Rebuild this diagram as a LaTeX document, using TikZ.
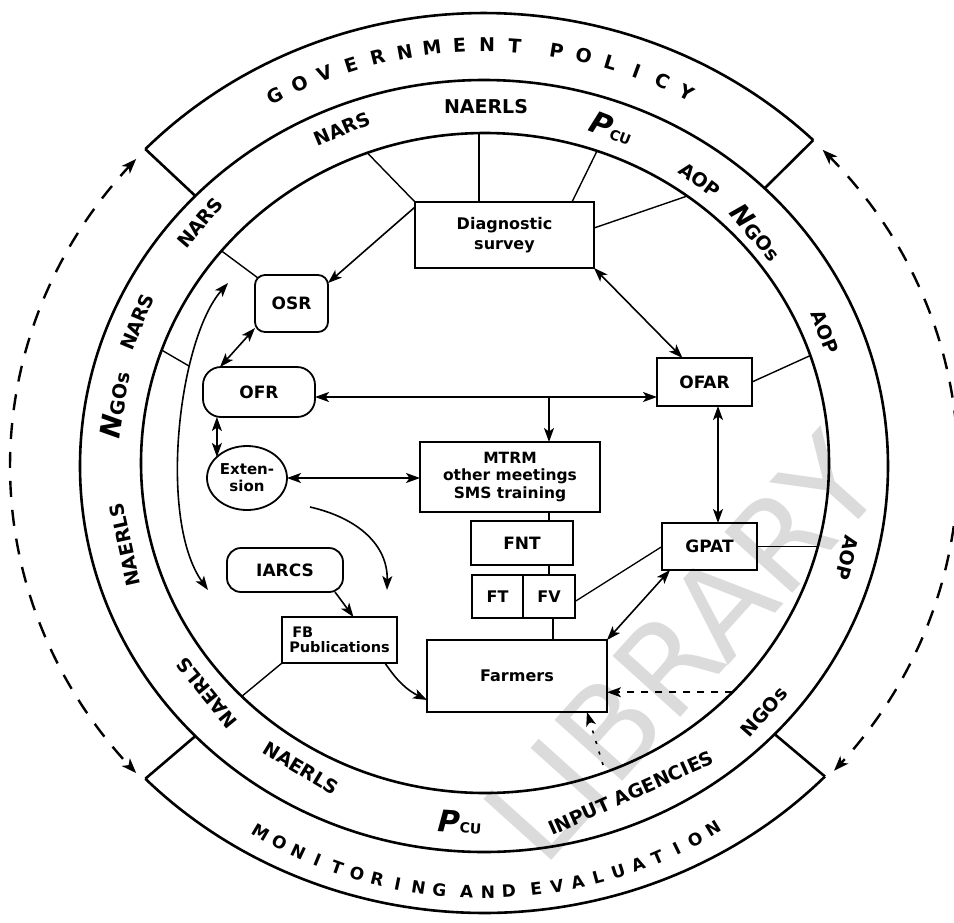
\documentclass[tikz,border=0pt]{standalone}
\usepackage{fontspec}
\setmainfont{DejaVu Sans}
\usetikzlibrary{arrows.meta,shapes.geometric}
\newcommand\fsz[1]{\fontsize{#1}{#1}\selectfont}
\begin{document}
\begin{tikzpicture}[x=1pt,y=-1pt,
  every node/.style={inner sep=0pt,outer sep=0pt,font=\bfseries},
  ring/.style={line width=2.6pt},
  spoke/.style={line width=1.4pt},
  link/.style={line width=1.3pt},
  box/.style={draw,line width=1.8pt,align=center,font=\fsz{16}\bfseries},
  rbox/.style={box,rounded corners=#1},
  arr/.style={line width=1.6pt,-{Stealth[length=14pt,width=10pt,inset=3.5pt]}},
  darr/.style={line width=1.6pt,{Stealth[length=14pt,width=10pt,inset=3.5pt]}-{Stealth[length=14pt,width=10pt,inset=3.5pt]}},
  dashring/.style={line width=2.4pt,dash pattern=on 16pt off 13pt,
    {Stealth[length=15pt,width=11pt,inset=4pt]}-{Stealth[length=15pt,width=11pt,inset=4pt]}},
  band/.style={font=\fsz{19}\bfseries},
  letterG/.style={font=\fsz{19}\bfseries},
  letterM/.style={font=\fsz{17}\bfseries},
]
\useasboundingbox (0,0) rectangle (954,922);

% faint stamp behind the drawing
\node[text=black!14,font=\fsz{125},rotate=48] (stamp) at (682,648) {LIBRARY};

% ---- rings -------------------------------------------------------------
\draw[ring] (484,466) ellipse [x radius=404, y radius=386];
\draw[ring] (485,463) ellipse [x radius=344, y radius=330];
% outer band: solid arcs at top and bottom, dashed two-way arcs at the sides
\draw[ring] plot[domain=46:135.6,samples=80] ({484+474*cos(\x)},{466-453*sin(\x)});
\draw[ring] plot[domain=224.4:316,samples=80] ({484+474*cos(\x)},{466-447*sin(\x)});
\draw[dashring] plot[domain=137.2:222.8,samples=80] ({484+474*cos(\x)},{466-452*sin(\x)});
\draw[dashring] plot[domain=44.4:-42.4,samples=80] ({484+474*cos(\x)},{466-452*sin(\x)});
% radial separators between the outer arcs and the middle ring
\foreach \a/\ry [count=\i] in {135.6/453,46/453,224.4/447,316/447}{
  \coordinate (to\i) at ({484+474*cos(\a)},{466-\ry*sin(\a)});
  \coordinate (tm\i) at ({484+404*cos(\a)},{466-386*sin(\a)});
  \draw[ring] (to\i) -- (tm\i);
}

% ---- lettering in the outer band ---------------------------------------
\foreach \c/\a [count=\i] in {G/118.4,O/114.8,V/111.2,E/107.6,R/104.0,N/100.4,M/96.8,E/93.2,N/89.6,T/86.0,
  P/80.5,O/76.9,L/73.3,I/69.7,C/66.1,Y/62.5}
  \node[letterG,rotate={\a-90}] (gp\i) at ({484+440*cos(\a)},{466-421*sin(\a)}) {\c};
\foreach \c/\a [count=\i] in {M/239.4,O/242.15,N/244.9,I/247.65,T/250.4,O/253.15,R/255.9,I/258.65,N/261.4,G/264.15,
  A/267.75,N/270.5,D/273.25,
  E/276.85,V/279.6,A/282.35,L/285.1,U/287.85,A/290.6,T/293.35,I/296.1,O/298.85,N/301.6}
  \node[letterM,rotate={\a+90}] (me\i) at ({484+438*cos(\a)},{466-426*sin(\a)}) {\c};

% ---- labels in the middle band -----------------------------------------
\node[band,rotate=49.4] (b1) at (200,223) {NARS};
\node[band,rotate=22.8] (b2) at (342,129) {NARS};
\node[band] (b3) at (486,107) {NAERLS};
\node[band,rotate=-21] (b4) at (612,128) {{\fsz{30}\itshape P}{\fsz{14}CU}};
\node[band,rotate=-37] (b5) at (700,180) {AOP};
\node[band,rotate=-49.4] (b6) at (757,232) {{\fsz{26}\itshape N}GOs};
\node[band,rotate=-68.5] (b7) at (825,332) {AOP};
\node[band,rotate=-104] (b8) at (847,558) {AOP};
\node[band,rotate=48.7] (b9) at (764,712) {NGOs};
\node[band,rotate=24.2] (b10) at (631,793) {INPUT AGENCIES};
\node[band,rotate=-4] (b11) at (460,822) {{\fsz{30}\itshape P}{\fsz{14}CU}};
\node[band,rotate=-31.2] (b12) at (301,768) {NAERLS};
\node[band,rotate=129.3] (b13) at (207,693) {NAERLS};
\node[band,rotate=102.4] (b14) at (125,545) {NAERLS};
\node[band,rotate=81.4] (b15) at (115,405) {{\fsz{28}\itshape N}GOs};
\node[band,rotate=67.5] (b16) at (137,322) {NARS};

% ---- boxes -------------------------------------------------------------
\node[box,minimum width=179pt,minimum height=66pt,font=\fontsize{16}{20}\selectfont\bfseries] (diag) at (504.5,235) {Diagnostic\\survey};
\node[rbox=10pt,minimum width=73pt,minimum height=57pt,font=\fsz{17}\bfseries] (osr) at (291.5,303.5) {OSR};
\node[rbox=18pt,minimum width=112pt,minimum height=50pt,font=\fsz{17}\bfseries] (ofr) at (259,392) {OFR};
\node[box,ellipse,minimum width=80pt,minimum height=64pt,font=\fontsize{15}{17}\selectfont\bfseries] (ext) at (247,478) {Exten-\\sion};
\node[box,minimum width=180pt,minimum height=70pt,font=\fontsize{15.5}{17.5}\selectfont\bfseries] (mtrm) at (510,477) {MTRM\\other meetings\\SMS training};
\node[box,minimum width=102pt,minimum height=44pt,font=\fsz{17}\bfseries] (fnt) at (522,543) {FNT};
\node[box,minimum width=51pt,minimum height=43pt] (ft) at (497.5,596.5) {FT};
\node[box,minimum width=52pt,minimum height=43pt] (fv) at (549,596.5) {FV};
\node[box,minimum width=180pt,minimum height=72pt] (farm) at (517,676) {Farmers};
\node[box,minimum width=115pt,minimum height=46pt,align=left,font=\fontsize{14.5}{15}\selectfont\bfseries] (fb) at (339.5,640) {\hspace*{3pt}FB\\Publications};
\node[rbox=14pt,minimum width=116pt,minimum height=44pt,font=\fsz{17}\bfseries] (iarcs) at (285,570) {IARCS};
\node[box,minimum width=95pt,minimum height=48pt,font=\fsz{17}\bfseries] (ofar) at (704.5,382) {OFAR};
\node[box,minimum width=95pt,minimum height=47pt,font=\fsz{17}\bfseries] (gpat) at (709.5,546.5) {GPAT};

% ---- points on the inner ring where the spokes start -------------------
\foreach \a in {110,91,71,54,140,160,19,-15,225,-44}
  \coordinate (i\a) at ({485+344*cos(\a)},{463-330*sin(\a)});
\coordinate (hy) at (0,397);
\coordinate (vx) at (718,0);
\coordinate (fy) at (0,700);
\coordinate (l1) at (228,283);
\coordinate (l2) at (208,590);
\coordinate (lc) at (189,366);
\coordinate (e1) at (310,507);
\coordinate (e2) at (387,590);
\coordinate (ia) at (603,765);

% ---- spokes ------------------------------------------------------------
\draw[spoke] (i110) -- (diag.north west);
\draw[spoke] (i91) -- (diag.north -| i91);
\draw[spoke] (i71) -- ([xshift=-22pt]diag.north east);
\draw[spoke] (i54) -- ([yshift=7pt]diag.east);
\draw[spoke] (i140) -- ([shift={(3pt,-3pt)}]osr.north west);
\draw[spoke] (i160) -- (lc);
\draw[spoke] (i19) -- (ofar.east);
\draw[spoke] (gpat.east) -- (gpat.east -| i-15);
\draw[spoke] (fb.south west) -- (i225);

% ---- arrows ------------------------------------------------------------
\draw[arr] ([yshift=-5pt]diag.north west) -- ([yshift=-8pt]osr.north east);
\draw[darr] ([yshift=4pt]osr.south west) -- ([xshift=17pt]ofr.north west);
\draw[darr] (ofr.south -| ext.145) -- (ext.145);
\draw[darr] (ofr.east |- hy) -- (ofar.west |- hy);
\draw[arr] (hy -| fv) -- (mtrm.north -| fv);
\draw[darr] (ext.east) -- (ext.east -| mtrm.west);
\draw[darr] (diag.south east) -- ([xshift=-22pt]ofar.north);
\draw[darr] (ofar.south -| vx) -- (gpat.north -| vx);
\draw[darr] ([xshift=8pt]gpat.south west) -- (farm.north east);
\draw[link] ([yshift=-5pt]fv.east) -- (gpat.west);
\draw[link] (mtrm.south -| fv) -- (fnt.north -| fv);
\draw[link] (fnt.south -| fv) -- (fv.north);
\draw[link] ([xshift=4pt]fv.south) -- ([xshift=4pt]fv.south |- farm.north);
\draw[arr] ([xshift=-8pt]iarcs.south east) -- ([xshift=14pt]fb.north);
\draw[arr] ([xshift=-12pt]fb.south east) to[bend right=15] (farm.west |- fy);
\draw[arr] (e1) .. controls (358,518) and (388,545) .. (e2);
\draw[darr] (l1) .. controls (178,340) and (158,520) .. (l2);
\draw[arr,dash pattern=on 7pt off 7pt] (i-44) -- (farm.east |- i-44);
\draw[arr,dash pattern=on 3pt off 8pt] (ia) -- ([xshift=-20pt]farm.south east);
\end{tikzpicture}
\end{document}
